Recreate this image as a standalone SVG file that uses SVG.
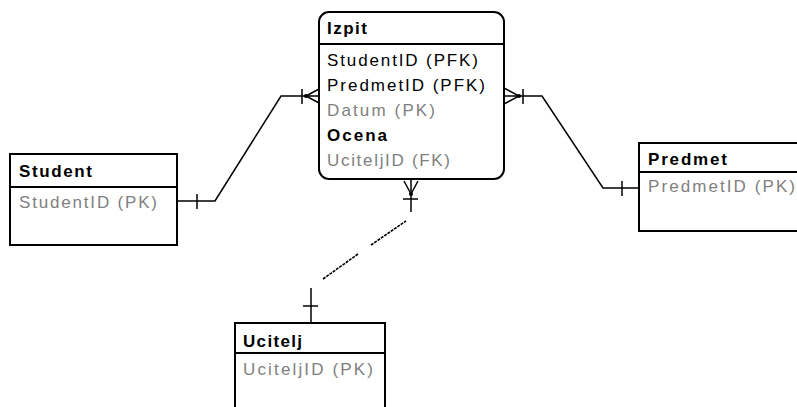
<svg xmlns="http://www.w3.org/2000/svg" width="797" height="407" viewBox="0 0 797 407">
<style>
.box{fill:#fff;stroke:#000;stroke-width:2}
.sep{stroke:#000;stroke-width:2}
.t{font-family:"Liberation Sans",Arial,sans-serif;font-size:17px;fill:#000}
.h{font-weight:bold}
.g{fill:#808080}
.c{fill:none;stroke:#000;stroke-width:1.5}
.d{fill:none;stroke:#000;stroke-width:1.6;stroke-dasharray:3 1}
</style>
<rect width="797" height="407" fill="#fff"/>
<g id="connectors">
<polyline class="c" points="177,201 215,201 281,96 319,96"/>
<line class="c" x1="197" y1="194" x2="197" y2="209"/>
<line class="c" x1="302" y1="89" x2="302" y2="104"/>
<polyline class="c" points="319,89 306,96 319,103"/>
<circle cx="306" cy="96" r="2" fill="#000"/>
<polyline class="c" points="504,96 542,96 603,188 639,188"/>
<line class="c" x1="622" y1="181" x2="622" y2="196"/>
<line class="c" x1="523" y1="89" x2="523" y2="104"/>
<polyline class="c" points="504,88 519,96 504,104"/>
<circle cx="519" cy="96" r="2" fill="#000"/>
<line class="c" x1="411" y1="180" x2="411" y2="212"/>
<polyline class="c" points="404,181 411,194 418,181"/>
<circle cx="411" cy="194" r="2" fill="#000"/>
<line class="c" x1="403" y1="199" x2="418" y2="199"/>
<line class="d" x1="323" y1="279" x2="358" y2="254"/>
<line class="d" x1="371" y1="245" x2="406" y2="221"/>
<line class="c" x1="311" y1="288" x2="311" y2="323"/>
<line class="c" x1="303" y1="306" x2="318" y2="306"/>
</g>
<g id="Izpit">
<rect class="box" x="319" y="12" width="185" height="167" rx="10" ry="10"/>
<line class="sep" x1="319" y1="44" x2="504" y2="44"/>
<text class="t h" x="327" y="34" textLength="40" lengthAdjust="spacing">Izpit</text>
<text class="t" x="327" y="66" textLength="151" lengthAdjust="spacing">StudentID (PFK)</text>
<text class="t" x="327" y="91" textLength="158" lengthAdjust="spacing">PredmetID (PFK)</text>
<text class="t g" x="327" y="116" textLength="108" lengthAdjust="spacing">Datum (PK)</text>
<text class="t h" x="327" y="141" textLength="60" lengthAdjust="spacing">Ocena</text>
<text class="t g" x="327" y="166" textLength="123" lengthAdjust="spacing">UciteljID (FK)</text>
</g>
<g id="Student">
<rect class="box" x="10" y="154" width="167" height="91"/>
<line class="sep" x1="10" y1="187" x2="177" y2="187"/>
<text class="t h" x="19" y="177" textLength="73" lengthAdjust="spacing">Student</text>
<text class="t g" x="19" y="208" textLength="138" lengthAdjust="spacing">StudentID (PK)</text>
</g>
<g id="Predmet">
<rect class="box" x="639" y="143" width="170" height="88"/>
<line class="sep" x1="639" y1="172" x2="809" y2="172"/>
<text class="t h" x="648" y="165" textLength="79" lengthAdjust="spacing">Predmet</text>
<text class="t g" x="648" y="192" textLength="147" lengthAdjust="spacing">PredmetID (PK)</text>
</g>
<g id="Ucitelj">
<rect class="box" x="235" y="323" width="150" height="100"/>
<line class="sep" x1="235" y1="353" x2="385" y2="353"/>
<text class="t h" x="243" y="347" textLength="59" lengthAdjust="spacing">Ucitelj</text>
<text class="t g" x="243" y="375" textLength="130" lengthAdjust="spacing">UciteljID (PK)</text>
</g>
</svg>
